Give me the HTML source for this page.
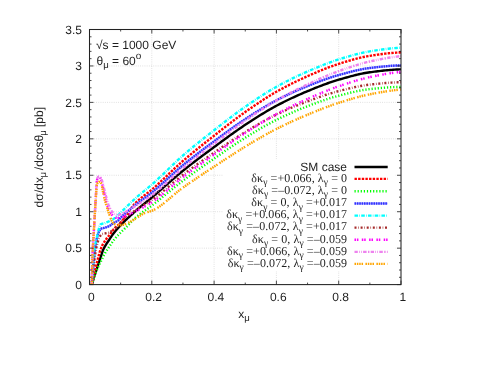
<!DOCTYPE html>
<html><head><meta charset="utf-8"><title>plot</title>
<style>
html,body{margin:0;padding:0;background:#fff;}
body{width:480px;height:371px;overflow:hidden;font-family:"Liberation Sans",sans-serif;}
svg{display:block;will-change:transform;text-rendering:geometricPrecision;}
.t{font-family:"Liberation Sans",sans-serif;font-size:12px;fill:#1e1e1e;}
.s{font-family:"Liberation Serif",serif;font-size:12px;fill:#1e1e1e;letter-spacing:0.085px;}
</style></head><body>
<svg width="480" height="371" viewBox="0 0 480 371">
<rect x="0" y="0" width="480" height="371" fill="#ffffff"/>
<g stroke="#d0d0d0" stroke-width="0.7" stroke-dasharray="0.9 1.3" fill="none"><line x1="151.80" y1="284.60" x2="151.80" y2="29.50"/><line x1="214.10" y1="284.60" x2="214.10" y2="29.50"/><line x1="276.40" y1="284.60" x2="276.40" y2="29.50"/><line x1="338.70" y1="284.60" x2="338.70" y2="29.50"/><line x1="89.50" y1="248.16" x2="401.00" y2="248.16"/><line x1="89.50" y1="211.71" x2="401.00" y2="211.71"/><line x1="89.50" y1="175.27" x2="401.00" y2="175.27"/><line x1="89.50" y1="138.83" x2="401.00" y2="138.83"/><line x1="89.50" y1="102.39" x2="401.00" y2="102.39"/><line x1="89.50" y1="65.94" x2="401.00" y2="65.94"/></g>
<rect x="223" y="159.5" width="172.5" height="111.5" fill="#ffffff"/>
<g fill="none" stroke-width="2.40" stroke-linejoin="round">
<path d="M91.84,284.60 L92.14,283.58 L92.44,282.58 L92.74,281.57 L93.04,280.58 L93.34,279.59 L93.64,278.61 L93.95,277.64 L94.25,276.68 L94.55,275.72 L94.85,274.78 L95.15,273.85 L95.45,272.92 L95.75,272.00 L96.05,271.09 L96.36,270.18 L96.66,269.27 L96.96,268.37 L97.26,267.46 L97.56,266.56 L97.86,265.65 L98.16,264.74 L98.47,263.83 L98.77,262.93 L99.07,262.03 L99.37,261.13 L99.67,260.23 L99.97,259.33 L100.27,258.43 L100.57,257.53 L100.88,256.63 L101.18,255.72 L101.48,254.76 L101.78,253.79 L102.08,252.84 L102.38,251.91 L102.68,251.05 L102.99,250.28 L103.29,249.59 L103.59,248.95 L103.89,248.33 L104.19,247.74 L104.49,247.17 L104.79,246.62 L105.09,246.09 L105.40,245.58 L105.70,245.08 L106.00,244.59 L106.30,244.12 L106.60,243.66 L106.90,243.20 L107.20,242.75 L107.51,242.31 L107.81,241.86 L108.11,241.42 L108.41,240.97 L108.71,240.52 L109.01,240.07 L109.31,239.60 L109.61,239.13 L109.92,238.66 L110.22,238.19 L110.52,237.72 L110.82,237.26 L111.12,236.80 L111.42,236.35 L111.72,235.90 L112.03,235.47 L112.33,235.04 L112.63,234.63 L112.93,234.22 L113.23,233.82 L113.53,233.43 L113.83,233.04 L114.13,232.66 L114.44,232.28 L114.74,231.90 L115.04,231.53 L115.34,231.17 L115.64,230.80 L115.94,230.44 L116.24,230.09 L116.54,229.73 L116.85,229.38 L117.15,229.04 L117.45,228.69 L117.75,228.35 L118.05,228.02 L118.35,227.68 L118.65,227.35 L118.96,227.02 L119.26,226.69 L119.56,226.36 L119.86,226.04 L120.16,225.72 L120.46,225.40 L120.76,225.08 L121.06,224.76 L121.37,224.45 L121.67,224.13 L121.97,223.82 L122.27,223.51 L122.57,223.20 L122.87,222.90 L123.17,222.59 L123.48,222.29 L123.78,221.99 L124.08,221.69 L124.38,221.39 L124.68,221.09 L124.98,220.80 L125.28,220.50 L125.58,220.21 L125.89,219.92 L126.19,219.63 L126.49,219.34 L126.79,219.05 L127.09,218.77 L127.39,218.48 L127.69,218.20 L128.00,217.91 L128.30,217.63 L128.60,217.35 L128.90,217.07 L129.20,216.79 L129.50,216.51 L129.80,216.24 L130.10,215.96 L130.41,215.69 L130.71,215.41 L131.01,215.14 L131.31,214.86 L131.61,214.59 L131.91,214.32 L132.21,214.05 L132.52,213.78 L132.82,213.51 L133.12,213.24 L133.42,212.97 L133.72,212.70 L134.02,212.43 L134.32,212.16 L134.62,211.89 L134.93,211.63 L135.23,211.36 L135.53,211.09 L135.83,210.83 L136.13,210.56 L136.43,210.29 L136.73,210.03 L137.04,209.76 L137.34,209.50 L137.64,209.24 L137.94,208.98 L138.24,208.72 L138.54,208.46 L138.84,208.20 L139.14,207.95 L139.45,207.69 L139.75,207.44 L140.05,207.18 L140.35,206.93 L140.65,206.68 L140.95,206.43 L141.25,206.18 L141.55,205.93 L141.86,205.68 L142.16,205.43 L142.46,205.18 L142.76,204.93 L143.06,204.69 L143.36,204.44 L143.66,204.19 L143.97,203.95 L144.27,203.70 L144.57,203.45 L144.87,203.21 L145.17,202.96 L145.47,202.72 L145.77,202.47 L146.07,202.23 L146.38,201.98 L146.68,201.73 L146.98,201.49 L147.28,201.24 L147.58,201.00 L147.88,200.75 L148.18,200.50 L148.49,200.26 L148.79,200.01 L149.09,199.76 L149.39,199.51 L149.69,199.26 L149.99,199.01 L150.29,198.76 L150.59,198.51 L150.90,198.26 L151.20,198.01 L151.50,197.76 L151.80,197.50 L153.36,196.18 L154.92,194.85 L156.47,193.51 L158.03,192.16 L159.59,190.80 L161.14,189.44 L162.70,188.08 L164.26,186.71 L165.82,185.35 L167.38,183.98 L168.93,182.62 L170.49,181.26 L172.05,179.91 L173.61,178.57 L175.16,177.23 L176.72,175.91 L178.28,174.60 L179.84,173.30 L181.39,172.02 L182.95,170.75 L184.51,169.50 L186.06,168.26 L187.62,167.03 L189.18,165.81 L190.74,164.59 L192.30,163.39 L193.85,162.19 L195.41,161.00 L196.97,159.81 L198.52,158.63 L200.08,157.46 L201.64,156.29 L203.20,155.13 L204.75,153.97 L206.31,152.81 L207.87,151.66 L209.43,150.51 L210.99,149.36 L212.54,148.21 L214.10,147.06 L215.66,145.92 L217.22,144.77 L218.77,143.62 L220.33,142.47 L221.89,141.33 L223.45,140.18 L225.00,139.04 L226.56,137.91 L228.12,136.77 L229.68,135.65 L231.23,134.52 L232.79,133.41 L234.35,132.30 L235.91,131.21 L237.46,130.12 L239.02,129.04 L240.58,127.97 L242.13,126.91 L243.69,125.87 L245.25,124.83 L246.81,123.81 L248.37,122.79 L249.92,121.77 L251.48,120.76 L253.04,119.75 L254.59,118.75 L256.15,117.76 L257.71,116.78 L259.27,115.80 L260.83,114.83 L262.38,113.87 L263.94,112.92 L265.50,111.99 L267.06,111.06 L268.61,110.15 L270.17,109.25 L271.73,108.37 L273.29,107.50 L274.84,106.65 L276.40,105.81 L277.96,104.99 L279.52,104.18 L281.07,103.37 L282.63,102.58 L284.19,101.80 L285.75,101.02 L287.30,100.26 L288.86,99.50 L290.42,98.76 L291.98,98.02 L293.53,97.30 L295.09,96.58 L296.65,95.87 L298.21,95.17 L299.76,94.48 L301.32,93.80 L302.88,93.13 L304.43,92.46 L305.99,91.81 L307.55,91.16 L309.11,90.52 L310.66,89.88 L312.22,89.25 L313.78,88.61 L315.34,87.99 L316.89,87.37 L318.45,86.75 L320.01,86.15 L321.57,85.55 L323.12,84.96 L324.68,84.38 L326.24,83.81 L327.80,83.25 L329.36,82.71 L330.91,82.17 L332.47,81.65 L334.03,81.14 L335.59,80.65 L337.14,80.18 L338.70,79.72 L340.26,79.27 L341.82,78.82 L343.37,78.37 L344.93,77.93 L346.49,77.49 L348.05,77.05 L349.60,76.62 L351.16,76.21 L352.72,75.80 L354.28,75.40 L355.83,75.01 L357.39,74.64 L358.95,74.28 L360.51,73.94 L362.06,73.61 L363.62,73.30 L365.18,73.02 L366.74,72.75 L368.29,72.51 L369.85,72.28 L371.41,72.08 L372.96,71.87 L374.52,71.67 L376.08,71.47 L377.64,71.27 L379.19,71.08 L380.75,70.90 L382.31,70.72 L383.87,70.55 L385.43,70.38 L386.98,70.23 L388.54,70.09 L390.10,69.95 L391.65,69.83 L393.21,69.72 L394.77,69.62 L396.33,69.54 L397.88,69.47 L399.44,69.41 L401.00,69.37" stroke="#000000"/>
<path d="M91.84,284.60 L92.14,283.30 L92.44,282.00 L92.74,280.70 L93.04,279.40 L93.34,278.09 L93.64,276.79 L93.95,275.49 L94.25,274.18 L94.55,272.88 L94.85,271.56 L95.15,270.22 L95.45,268.88 L95.75,267.56 L96.05,266.25 L96.36,264.98 L96.66,263.75 L96.96,262.54 L97.26,261.33 L97.56,260.13 L97.86,258.93 L98.16,257.76 L98.47,256.60 L98.77,255.47 L99.07,254.37 L99.37,253.30 L99.67,252.28 L99.97,251.30 L100.27,250.36 L100.57,249.48 L100.88,248.65 L101.18,247.86 L101.48,247.13 L101.78,246.46 L102.08,245.83 L102.38,245.24 L102.68,244.66 L102.99,244.10 L103.29,243.57 L103.59,243.05 L103.89,242.55 L104.19,242.06 L104.49,241.59 L104.79,241.13 L105.09,240.67 L105.40,240.23 L105.70,239.79 L106.00,239.36 L106.30,238.95 L106.60,238.55 L106.90,238.16 L107.20,237.79 L107.51,237.41 L107.81,237.05 L108.11,236.68 L108.41,236.32 L108.71,235.95 L109.01,235.57 L109.31,235.19 L109.61,234.81 L109.92,234.41 L110.22,234.01 L110.52,233.60 L110.82,233.19 L111.12,232.78 L111.42,232.37 L111.72,231.95 L112.03,231.54 L112.33,231.13 L112.63,230.73 L112.93,230.33 L113.23,229.94 L113.53,229.56 L113.83,229.18 L114.13,228.82 L114.44,228.47 L114.74,228.14 L115.04,227.81 L115.34,227.51 L115.64,227.21 L115.94,226.93 L116.24,226.65 L116.54,226.38 L116.85,226.12 L117.15,225.86 L117.45,225.60 L117.75,225.34 L118.05,225.09 L118.35,224.83 L118.65,224.56 L118.96,224.29 L119.26,224.01 L119.56,223.73 L119.86,223.43 L120.16,223.11 L120.46,222.79 L120.76,222.46 L121.06,222.12 L121.37,221.77 L121.67,221.42 L121.97,221.05 L122.27,220.68 L122.57,220.31 L122.87,219.92 L123.17,219.53 L123.48,219.14 L123.78,218.74 L124.08,218.33 L124.38,217.92 L124.68,217.51 L124.98,217.09 L125.28,216.67 L125.58,216.25 L125.89,215.82 L126.19,215.39 L126.49,214.96 L126.79,214.53 L127.09,214.09 L127.39,213.66 L127.69,213.22 L128.00,212.79 L128.30,212.35 L128.60,211.92 L128.90,211.49 L129.20,211.06 L129.50,210.63 L129.80,210.20 L130.10,209.77 L130.41,209.35 L130.71,208.93 L131.01,208.52 L131.31,208.11 L131.61,207.70 L131.91,207.30 L132.21,206.90 L132.52,206.51 L132.82,206.12 L133.12,205.74 L133.42,205.37 L133.72,205.00 L134.02,204.64 L134.32,204.29 L134.62,203.95 L134.93,203.62 L135.23,203.29 L135.53,202.97 L135.83,202.67 L136.13,202.37 L136.43,202.07 L136.73,201.78 L137.04,201.49 L137.34,201.21 L137.64,200.93 L137.94,200.66 L138.24,200.39 L138.54,200.12 L138.84,199.86 L139.14,199.60 L139.45,199.34 L139.75,199.09 L140.05,198.83 L140.35,198.59 L140.65,198.34 L140.95,198.10 L141.25,197.85 L141.55,197.62 L141.86,197.38 L142.16,197.14 L142.46,196.91 L142.76,196.68 L143.06,196.44 L143.36,196.21 L143.66,195.99 L143.97,195.76 L144.27,195.53 L144.57,195.30 L144.87,195.08 L145.17,194.85 L145.47,194.63 L145.77,194.40 L146.07,194.17 L146.38,193.95 L146.68,193.72 L146.98,193.49 L147.28,193.27 L147.58,193.04 L147.88,192.81 L148.18,192.57 L148.49,192.34 L148.79,192.11 L149.09,191.87 L149.39,191.63 L149.69,191.40 L149.99,191.15 L150.29,190.91 L150.59,190.66 L150.90,190.41 L151.20,190.16 L151.50,189.91 L151.80,189.65 L153.36,188.30 L154.92,186.92 L156.47,185.52 L158.03,184.10 L159.59,182.66 L161.14,181.21 L162.70,179.75 L164.26,178.28 L165.82,176.80 L167.38,175.32 L168.93,173.83 L170.49,172.36 L172.05,170.88 L173.61,169.42 L175.16,167.96 L176.72,166.52 L178.28,165.10 L179.84,163.69 L181.39,162.31 L182.95,160.95 L184.51,159.61 L186.06,158.29 L187.62,156.97 L189.18,155.67 L190.74,154.37 L192.30,153.08 L193.85,151.80 L195.41,150.53 L196.97,149.27 L198.52,148.01 L200.08,146.76 L201.64,145.52 L203.20,144.27 L204.75,143.04 L206.31,141.81 L207.87,140.58 L209.43,139.35 L210.99,138.13 L212.54,136.90 L214.10,135.68 L215.66,134.46 L217.22,133.23 L218.77,132.01 L220.33,130.79 L221.89,129.57 L223.45,128.35 L225.00,127.13 L226.56,125.92 L228.12,124.72 L229.68,123.52 L231.23,122.33 L232.79,121.14 L234.35,119.96 L235.91,118.79 L237.46,117.63 L239.02,116.49 L240.58,115.35 L242.13,114.23 L243.69,113.11 L245.25,112.02 L246.81,110.93 L248.37,109.84 L249.92,108.76 L251.48,107.68 L253.04,106.61 L254.59,105.55 L256.15,104.49 L257.71,103.45 L259.27,102.41 L260.83,101.38 L262.38,100.36 L263.94,99.35 L265.50,98.35 L267.06,97.37 L268.61,96.40 L270.17,95.45 L271.73,94.51 L273.29,93.58 L274.84,92.68 L276.40,91.79 L277.96,90.91 L279.52,90.05 L281.07,89.19 L282.63,88.35 L284.19,87.52 L285.75,86.69 L287.30,85.88 L288.86,85.08 L290.42,84.29 L291.98,83.50 L293.53,82.73 L295.09,81.97 L296.65,81.21 L298.21,80.47 L299.76,79.73 L301.32,79.01 L302.88,78.29 L304.43,77.58 L305.99,76.88 L307.55,76.19 L309.11,75.50 L310.66,74.82 L312.22,74.14 L313.78,73.47 L315.34,72.80 L316.89,72.14 L318.45,71.48 L320.01,70.83 L321.57,70.19 L323.12,69.56 L324.68,68.94 L326.24,68.33 L327.80,67.73 L329.36,67.14 L330.91,66.57 L332.47,66.01 L334.03,65.46 L335.59,64.93 L337.14,64.42 L338.70,63.92 L340.26,63.43 L341.82,62.95 L343.37,62.46 L344.93,61.98 L346.49,61.51 L348.05,61.04 L349.60,60.58 L351.16,60.12 L352.72,59.68 L354.28,59.25 L355.83,58.83 L357.39,58.42 L358.95,58.03 L360.51,57.66 L362.06,57.30 L363.62,56.96 L365.18,56.64 L366.74,56.34 L368.29,56.07 L369.85,55.82 L371.41,55.58 L372.96,55.34 L374.52,55.11 L376.08,54.88 L377.64,54.66 L379.19,54.44 L380.75,54.23 L382.31,54.03 L383.87,53.83 L385.43,53.65 L386.98,53.47 L388.54,53.30 L390.10,53.15 L391.65,53.00 L393.21,52.87 L394.77,52.75 L396.33,52.64 L397.88,52.55 L399.44,52.47 L401.00,52.41" stroke="#ff0000" stroke-dasharray="2.4 1.24"/>
<path d="M91.84,284.60 L92.14,283.60 L92.44,282.61 L92.74,281.62 L93.04,280.60 L93.34,279.58 L93.64,278.56 L93.95,277.56 L94.25,276.60 L94.55,275.68 L94.85,274.83 L95.15,274.03 L95.45,273.28 L95.75,272.55 L96.05,271.85 L96.36,271.16 L96.66,270.47 L96.96,269.78 L97.26,269.09 L97.56,268.41 L97.86,267.74 L98.16,267.07 L98.47,266.41 L98.77,265.76 L99.07,265.12 L99.37,264.49 L99.67,263.86 L99.97,263.25 L100.27,262.64 L100.57,262.03 L100.88,261.42 L101.18,260.82 L101.48,260.21 L101.78,259.60 L102.08,258.98 L102.38,258.36 L102.68,257.74 L102.99,257.13 L103.29,256.52 L103.59,255.92 L103.89,255.34 L104.19,254.77 L104.49,254.21 L104.79,253.67 L105.09,253.13 L105.40,252.61 L105.70,252.10 L106.00,251.61 L106.30,251.12 L106.60,250.65 L106.90,250.18 L107.20,249.71 L107.51,249.26 L107.81,248.80 L108.11,248.36 L108.41,247.91 L108.71,247.47 L109.01,247.03 L109.31,246.59 L109.61,246.15 L109.92,245.70 L110.22,245.26 L110.52,244.81 L110.82,244.37 L111.12,243.92 L111.42,243.48 L111.72,243.04 L112.03,242.60 L112.33,242.17 L112.63,241.74 L112.93,241.32 L113.23,240.90 L113.53,240.49 L113.83,240.09 L114.13,239.70 L114.44,239.31 L114.74,238.94 L115.04,238.57 L115.34,238.21 L115.64,237.86 L115.94,237.52 L116.24,237.18 L116.54,236.85 L116.85,236.53 L117.15,236.20 L117.45,235.89 L117.75,235.57 L118.05,235.26 L118.35,234.95 L118.65,234.64 L118.96,234.33 L119.26,234.03 L119.56,233.72 L119.86,233.41 L120.16,233.10 L120.46,232.79 L120.76,232.49 L121.06,232.18 L121.37,231.88 L121.67,231.58 L121.97,231.28 L122.27,230.98 L122.57,230.69 L122.87,230.39 L123.17,230.10 L123.48,229.80 L123.78,229.51 L124.08,229.22 L124.38,228.93 L124.68,228.63 L124.98,228.34 L125.28,228.05 L125.58,227.76 L125.89,227.46 L126.19,227.17 L126.49,226.88 L126.79,226.58 L127.09,226.28 L127.39,225.98 L127.69,225.68 L128.00,225.38 L128.30,225.07 L128.60,224.76 L128.90,224.45 L129.20,224.14 L129.50,223.82 L129.80,223.50 L130.10,223.18 L130.41,222.86 L130.71,222.54 L131.01,222.21 L131.31,221.89 L131.61,221.57 L131.91,221.25 L132.21,220.93 L132.52,220.62 L132.82,220.30 L133.12,219.99 L133.42,219.68 L133.72,219.38 L134.02,219.08 L134.32,218.78 L134.62,218.49 L134.93,218.21 L135.23,217.93 L135.53,217.66 L135.83,217.39 L136.13,217.13 L136.43,216.87 L136.73,216.62 L137.04,216.37 L137.34,216.12 L137.64,215.87 L137.94,215.63 L138.24,215.39 L138.54,215.15 L138.84,214.91 L139.14,214.68 L139.45,214.45 L139.75,214.22 L140.05,213.99 L140.35,213.77 L140.65,213.54 L140.95,213.32 L141.25,213.10 L141.55,212.88 L141.86,212.67 L142.16,212.45 L142.46,212.23 L142.76,212.02 L143.06,211.81 L143.36,211.60 L143.66,211.38 L143.97,211.17 L144.27,210.96 L144.57,210.75 L144.87,210.54 L145.17,210.34 L145.47,210.13 L145.77,209.92 L146.07,209.71 L146.38,209.50 L146.68,209.29 L146.98,209.08 L147.28,208.87 L147.58,208.66 L147.88,208.45 L148.18,208.24 L148.49,208.03 L148.79,207.81 L149.09,207.60 L149.39,207.38 L149.69,207.16 L149.99,206.94 L150.29,206.72 L150.59,206.50 L150.90,206.28 L151.20,206.05 L151.50,205.83 L151.80,205.60 L153.36,204.40 L154.92,203.19 L156.47,201.96 L158.03,200.72 L159.59,199.47 L161.14,198.21 L162.70,196.94 L164.26,195.68 L165.82,194.40 L167.38,193.13 L168.93,191.86 L170.49,190.59 L172.05,189.32 L173.61,188.06 L175.16,186.81 L176.72,185.57 L178.28,184.35 L179.84,183.13 L181.39,181.93 L182.95,180.75 L184.51,179.59 L186.06,178.43 L187.62,177.28 L189.18,176.14 L190.74,175.00 L192.30,173.87 L193.85,172.75 L195.41,171.64 L196.97,170.53 L198.52,169.43 L200.08,168.33 L201.64,167.23 L203.20,166.14 L204.75,165.06 L206.31,163.97 L207.87,162.89 L209.43,161.81 L210.99,160.74 L212.54,159.66 L214.10,158.59 L215.66,157.51 L217.22,156.44 L218.77,155.36 L220.33,154.28 L221.89,153.21 L223.45,152.14 L225.00,151.07 L226.56,150.00 L228.12,148.94 L229.68,147.88 L231.23,146.83 L232.79,145.78 L234.35,144.74 L235.91,143.71 L237.46,142.69 L239.02,141.68 L240.58,140.68 L242.13,139.69 L243.69,138.71 L245.25,137.74 L246.81,136.78 L248.37,135.82 L249.92,134.87 L251.48,133.92 L253.04,132.97 L254.59,132.03 L256.15,131.10 L257.71,130.18 L259.27,129.26 L260.83,128.35 L262.38,127.45 L263.94,126.56 L265.50,125.69 L267.06,124.82 L268.61,123.96 L270.17,123.12 L271.73,122.30 L273.29,121.48 L274.84,120.68 L276.40,119.90 L277.96,119.13 L279.52,118.37 L281.07,117.62 L282.63,116.88 L284.19,116.15 L285.75,115.42 L287.30,114.71 L288.86,114.00 L290.42,113.31 L291.98,112.62 L293.53,111.94 L295.09,111.27 L296.65,110.61 L298.21,109.96 L299.76,109.32 L301.32,108.68 L302.88,108.06 L304.43,107.44 L305.99,106.83 L307.55,106.23 L309.11,105.64 L310.66,105.05 L312.22,104.46 L313.78,103.88 L315.34,103.30 L316.89,102.73 L318.45,102.16 L320.01,101.60 L321.57,101.05 L323.12,100.50 L324.68,99.97 L326.24,99.44 L327.80,98.93 L329.36,98.43 L330.91,97.94 L332.47,97.47 L334.03,97.01 L335.59,96.56 L337.14,96.13 L338.70,95.72 L340.26,95.31 L341.82,94.90 L343.37,94.50 L344.93,94.10 L346.49,93.70 L348.05,93.31 L349.60,92.92 L351.16,92.54 L352.72,92.17 L354.28,91.82 L355.83,91.47 L357.39,91.14 L358.95,90.82 L360.51,90.52 L362.06,90.23 L363.62,89.97 L365.18,89.72 L366.74,89.50 L368.29,89.30 L369.85,89.12 L371.41,88.96 L372.96,88.79 L374.52,88.63 L376.08,88.47 L377.64,88.31 L379.19,88.16 L380.75,88.01 L382.31,87.87 L383.87,87.74 L385.43,87.61 L386.98,87.49 L388.54,87.38 L390.10,87.28 L391.65,87.19 L393.21,87.11 L394.77,87.05 L396.33,86.99 L397.88,86.96 L399.44,86.93 L401.00,86.92" stroke="#00ff00" stroke-dasharray="1.2 1.9"/>
<path d="M91.74,284.60 L92.04,280.57 L92.35,276.65 L92.65,272.87 L92.95,269.22 L93.25,265.74 L93.55,262.43 L93.86,259.31 L94.16,256.38 L94.46,253.68 L94.76,251.20 L95.06,248.97 L95.36,246.99 L95.67,245.13 L95.97,243.34 L96.27,241.64 L96.57,240.03 L96.87,238.52 L97.18,237.13 L97.48,235.86 L97.78,234.72 L98.08,233.73 L98.38,232.90 L98.68,232.23 L98.99,231.63 L99.29,231.06 L99.59,230.54 L99.89,230.07 L100.19,229.64 L100.49,229.28 L100.80,228.98 L101.10,228.75 L101.40,228.60 L101.70,228.48 L102.00,228.38 L102.31,228.29 L102.61,228.22 L102.91,228.16 L103.21,228.10 L103.51,228.04 L103.81,227.98 L104.12,227.92 L104.42,227.85 L104.72,227.76 L105.02,227.67 L105.32,227.58 L105.63,227.48 L105.93,227.38 L106.23,227.28 L106.53,227.17 L106.83,227.06 L107.13,226.95 L107.44,226.83 L107.74,226.71 L108.04,226.59 L108.34,226.45 L108.64,226.32 L108.95,226.17 L109.25,226.02 L109.55,225.87 L109.85,225.69 L110.15,225.48 L110.45,225.26 L110.76,225.02 L111.06,224.78 L111.36,224.53 L111.66,224.28 L111.96,224.03 L112.26,223.80 L112.57,223.58 L112.87,223.37 L113.17,223.19 L113.47,223.01 L113.77,222.84 L114.08,222.69 L114.38,222.53 L114.68,222.39 L114.98,222.24 L115.28,222.10 L115.58,221.95 L115.89,221.80 L116.19,221.65 L116.49,221.49 L116.79,221.32 L117.09,221.15 L117.40,220.96 L117.70,220.75 L118.00,220.54 L118.30,220.29 L118.60,220.00 L118.90,219.68 L119.21,219.35 L119.51,219.00 L119.81,218.64 L120.11,218.29 L120.41,217.95 L120.72,217.63 L121.02,217.34 L121.32,217.05 L121.62,216.76 L121.92,216.47 L122.22,216.19 L122.53,215.91 L122.83,215.63 L123.13,215.35 L123.43,215.07 L123.73,214.80 L124.03,214.52 L124.34,214.25 L124.64,213.98 L124.94,213.71 L125.24,213.45 L125.54,213.18 L125.85,212.92 L126.15,212.66 L126.45,212.40 L126.75,212.14 L127.05,211.88 L127.35,211.62 L127.66,211.37 L127.96,211.11 L128.26,210.86 L128.56,210.61 L128.86,210.36 L129.17,210.11 L129.47,209.86 L129.77,209.61 L130.07,209.36 L130.37,209.11 L130.67,208.87 L130.98,208.62 L131.28,208.37 L131.58,208.13 L131.88,207.89 L132.18,207.64 L132.49,207.40 L132.79,207.15 L133.09,206.91 L133.39,206.67 L133.69,206.43 L133.99,206.18 L134.30,205.94 L134.60,205.70 L134.90,205.46 L135.20,205.21 L135.50,204.97 L135.80,204.73 L136.11,204.49 L136.41,204.25 L136.71,204.01 L137.01,203.77 L137.31,203.53 L137.62,203.30 L137.92,203.06 L138.22,202.83 L138.52,202.60 L138.82,202.37 L139.12,202.14 L139.43,201.91 L139.73,201.68 L140.03,201.46 L140.33,201.23 L140.63,201.00 L140.94,200.78 L141.24,200.55 L141.54,200.33 L141.84,200.11 L142.14,199.88 L142.44,199.66 L142.75,199.44 L143.05,199.22 L143.35,198.99 L143.65,198.77 L143.95,198.55 L144.26,198.33 L144.56,198.11 L144.86,197.88 L145.16,197.66 L145.46,197.44 L145.76,197.21 L146.07,196.99 L146.37,196.77 L146.67,196.54 L146.97,196.32 L147.27,196.09 L147.57,195.86 L147.88,195.63 L148.18,195.41 L148.48,195.18 L148.78,194.95 L149.08,194.72 L149.39,194.48 L149.69,194.25 L149.99,194.01 L150.29,193.78 L150.59,193.54 L150.89,193.30 L151.20,193.06 L151.50,192.82 L151.80,192.58 L153.36,191.30 L154.92,190.00 L156.47,188.67 L158.03,187.32 L159.59,185.95 L161.14,184.57 L162.70,183.17 L164.26,181.76 L165.82,180.35 L167.38,178.93 L168.93,177.51 L170.49,176.09 L172.05,174.68 L173.61,173.28 L175.16,171.88 L176.72,170.50 L178.28,169.14 L179.84,167.80 L181.39,166.49 L182.95,165.20 L184.51,163.93 L186.06,162.67 L187.62,161.42 L189.18,160.18 L190.74,158.95 L192.30,157.73 L193.85,156.52 L195.41,155.32 L196.97,154.12 L198.52,152.93 L200.08,151.75 L201.64,150.58 L203.20,149.40 L204.75,148.24 L206.31,147.07 L207.87,145.91 L209.43,144.76 L210.99,143.60 L212.54,142.45 L214.10,141.30 L215.66,140.15 L217.22,139.00 L218.77,137.85 L220.33,136.70 L221.89,135.55 L223.45,134.40 L225.00,133.26 L226.56,132.12 L228.12,130.99 L229.68,129.87 L231.23,128.75 L232.79,127.64 L234.35,126.53 L235.91,125.44 L237.46,124.35 L239.02,123.28 L240.58,122.22 L242.13,121.17 L243.69,120.13 L245.25,119.10 L246.81,118.09 L248.37,117.08 L249.92,116.07 L251.48,115.06 L253.04,114.07 L254.59,113.08 L256.15,112.10 L257.71,111.12 L259.27,110.15 L260.83,109.20 L262.38,108.25 L263.94,107.32 L265.50,106.39 L267.06,105.48 L268.61,104.59 L270.17,103.70 L271.73,102.84 L273.29,101.98 L274.84,101.15 L276.40,100.33 L277.96,99.52 L279.52,98.73 L281.07,97.94 L282.63,97.17 L284.19,96.40 L285.75,95.65 L287.30,94.90 L288.86,94.17 L290.42,93.44 L291.98,92.73 L293.53,92.02 L295.09,91.32 L296.65,90.64 L298.21,89.96 L299.76,89.29 L301.32,88.63 L302.88,87.97 L304.43,87.33 L305.99,86.70 L307.55,86.07 L309.11,85.45 L310.66,84.83 L312.22,84.22 L313.78,83.61 L315.34,83.00 L316.89,82.40 L318.45,81.81 L320.01,81.23 L321.57,80.65 L323.12,80.08 L324.68,79.52 L326.24,78.97 L327.80,78.43 L329.36,77.91 L330.91,77.40 L332.47,76.90 L334.03,76.41 L335.59,75.94 L337.14,75.49 L338.70,75.05 L340.26,74.62 L341.82,74.19 L343.37,73.76 L344.93,73.34 L346.49,72.92 L348.05,72.50 L349.60,72.10 L351.16,71.70 L352.72,71.31 L354.28,70.93 L355.83,70.56 L357.39,70.21 L358.95,69.87 L360.51,69.55 L362.06,69.24 L363.62,68.95 L365.18,68.69 L366.74,68.44 L368.29,68.21 L369.85,68.01 L371.41,67.82 L372.96,67.64 L374.52,67.45 L376.08,67.27 L377.64,67.10 L379.19,66.92 L380.75,66.76 L382.31,66.60 L383.87,66.44 L385.43,66.30 L386.98,66.16 L388.54,66.03 L390.10,65.91 L391.65,65.80 L393.21,65.71 L394.77,65.63 L396.33,65.56 L397.88,65.50 L399.44,65.46 L401.00,65.43" stroke="#b8b8ff" stroke-width="2.2"/>
<path d="M91.74,284.60 L92.04,280.57 L92.35,276.65 L92.65,272.87 L92.95,269.22 L93.25,265.74 L93.55,262.43 L93.86,259.31 L94.16,256.38 L94.46,253.68 L94.76,251.20 L95.06,248.97 L95.36,246.99 L95.67,245.13 L95.97,243.34 L96.27,241.64 L96.57,240.03 L96.87,238.52 L97.18,237.13 L97.48,235.86 L97.78,234.72 L98.08,233.73 L98.38,232.90 L98.68,232.23 L98.99,231.63 L99.29,231.06 L99.59,230.54 L99.89,230.07 L100.19,229.64 L100.49,229.28 L100.80,228.98 L101.10,228.75 L101.40,228.60 L101.70,228.48 L102.00,228.38 L102.31,228.29 L102.61,228.22 L102.91,228.16 L103.21,228.10 L103.51,228.04 L103.81,227.98 L104.12,227.92 L104.42,227.85 L104.72,227.76 L105.02,227.67 L105.32,227.58 L105.63,227.48 L105.93,227.38 L106.23,227.28 L106.53,227.17 L106.83,227.06 L107.13,226.95 L107.44,226.83 L107.74,226.71 L108.04,226.59 L108.34,226.45 L108.64,226.32 L108.95,226.17 L109.25,226.02 L109.55,225.87 L109.85,225.69 L110.15,225.48 L110.45,225.26 L110.76,225.02 L111.06,224.78 L111.36,224.53 L111.66,224.28 L111.96,224.03 L112.26,223.80 L112.57,223.58 L112.87,223.37 L113.17,223.19 L113.47,223.01 L113.77,222.84 L114.08,222.69 L114.38,222.53 L114.68,222.39 L114.98,222.24 L115.28,222.10 L115.58,221.95 L115.89,221.80 L116.19,221.65 L116.49,221.49 L116.79,221.32 L117.09,221.15 L117.40,220.96 L117.70,220.75 L118.00,220.54 L118.30,220.29 L118.60,220.00 L118.90,219.68 L119.21,219.35 L119.51,219.00 L119.81,218.64 L120.11,218.29 L120.41,217.95 L120.72,217.63 L121.02,217.34 L121.32,217.05 L121.62,216.76 L121.92,216.47 L122.22,216.19 L122.53,215.91 L122.83,215.63 L123.13,215.35 L123.43,215.07 L123.73,214.80 L124.03,214.52 L124.34,214.25 L124.64,213.98 L124.94,213.71 L125.24,213.45 L125.54,213.18 L125.85,212.92 L126.15,212.66 L126.45,212.40 L126.75,212.14 L127.05,211.88 L127.35,211.62 L127.66,211.37 L127.96,211.11 L128.26,210.86 L128.56,210.61 L128.86,210.36 L129.17,210.11 L129.47,209.86 L129.77,209.61 L130.07,209.36 L130.37,209.11 L130.67,208.87 L130.98,208.62 L131.28,208.37 L131.58,208.13 L131.88,207.89 L132.18,207.64 L132.49,207.40 L132.79,207.15 L133.09,206.91 L133.39,206.67 L133.69,206.43 L133.99,206.18 L134.30,205.94 L134.60,205.70 L134.90,205.46 L135.20,205.21 L135.50,204.97 L135.80,204.73 L136.11,204.49 L136.41,204.25 L136.71,204.01 L137.01,203.77 L137.31,203.53 L137.62,203.30 L137.92,203.06 L138.22,202.83 L138.52,202.60 L138.82,202.37 L139.12,202.14 L139.43,201.91 L139.73,201.68 L140.03,201.46 L140.33,201.23 L140.63,201.00 L140.94,200.78 L141.24,200.55 L141.54,200.33 L141.84,200.11 L142.14,199.88 L142.44,199.66 L142.75,199.44 L143.05,199.22 L143.35,198.99 L143.65,198.77 L143.95,198.55 L144.26,198.33 L144.56,198.11 L144.86,197.88 L145.16,197.66 L145.46,197.44 L145.76,197.21 L146.07,196.99 L146.37,196.77 L146.67,196.54 L146.97,196.32 L147.27,196.09 L147.57,195.86 L147.88,195.63 L148.18,195.41 L148.48,195.18 L148.78,194.95 L149.08,194.72 L149.39,194.48 L149.69,194.25 L149.99,194.01 L150.29,193.78 L150.59,193.54 L150.89,193.30 L151.20,193.06 L151.50,192.82 L151.80,192.58 L153.36,191.30 L154.92,190.00 L156.47,188.67 L158.03,187.32 L159.59,185.95 L161.14,184.57 L162.70,183.17 L164.26,181.76 L165.82,180.35 L167.38,178.93 L168.93,177.51 L170.49,176.09 L172.05,174.68 L173.61,173.28 L175.16,171.88 L176.72,170.50 L178.28,169.14 L179.84,167.80 L181.39,166.49 L182.95,165.20 L184.51,163.93 L186.06,162.67 L187.62,161.42 L189.18,160.18 L190.74,158.95 L192.30,157.73 L193.85,156.52 L195.41,155.32 L196.97,154.12 L198.52,152.93 L200.08,151.75 L201.64,150.58 L203.20,149.40 L204.75,148.24 L206.31,147.07 L207.87,145.91 L209.43,144.76 L210.99,143.60 L212.54,142.45 L214.10,141.30 L215.66,140.15 L217.22,139.00 L218.77,137.85 L220.33,136.70 L221.89,135.55 L223.45,134.40 L225.00,133.26 L226.56,132.12 L228.12,130.99 L229.68,129.87 L231.23,128.75 L232.79,127.64 L234.35,126.53 L235.91,125.44 L237.46,124.35 L239.02,123.28 L240.58,122.22 L242.13,121.17 L243.69,120.13 L245.25,119.10 L246.81,118.09 L248.37,117.08 L249.92,116.07 L251.48,115.06 L253.04,114.07 L254.59,113.08 L256.15,112.10 L257.71,111.12 L259.27,110.15 L260.83,109.20 L262.38,108.25 L263.94,107.32 L265.50,106.39 L267.06,105.48 L268.61,104.59 L270.17,103.70 L271.73,102.84 L273.29,101.98 L274.84,101.15 L276.40,100.33 L277.96,99.52 L279.52,98.73 L281.07,97.94 L282.63,97.17 L284.19,96.40 L285.75,95.65 L287.30,94.90 L288.86,94.17 L290.42,93.44 L291.98,92.73 L293.53,92.02 L295.09,91.32 L296.65,90.64 L298.21,89.96 L299.76,89.29 L301.32,88.63 L302.88,87.97 L304.43,87.33 L305.99,86.70 L307.55,86.07 L309.11,85.45 L310.66,84.83 L312.22,84.22 L313.78,83.61 L315.34,83.00 L316.89,82.40 L318.45,81.81 L320.01,81.23 L321.57,80.65 L323.12,80.08 L324.68,79.52 L326.24,78.97 L327.80,78.43 L329.36,77.91 L330.91,77.40 L332.47,76.90 L334.03,76.41 L335.59,75.94 L337.14,75.49 L338.70,75.05 L340.26,74.62 L341.82,74.19 L343.37,73.76 L344.93,73.34 L346.49,72.92 L348.05,72.50 L349.60,72.10 L351.16,71.70 L352.72,71.31 L354.28,70.93 L355.83,70.56 L357.39,70.21 L358.95,69.87 L360.51,69.55 L362.06,69.24 L363.62,68.95 L365.18,68.69 L366.74,68.44 L368.29,68.21 L369.85,68.01 L371.41,67.82 L372.96,67.64 L374.52,67.45 L376.08,67.27 L377.64,67.10 L379.19,66.92 L380.75,66.76 L382.31,66.60 L383.87,66.44 L385.43,66.30 L386.98,66.16 L388.54,66.03 L390.10,65.91 L391.65,65.80 L393.21,65.71 L394.77,65.63 L396.33,65.56 L397.88,65.50 L399.44,65.46 L401.00,65.43" stroke="#3030ff" stroke-dasharray="1.6 0.77"/>
<path d="M91.74,284.60 L92.04,279.49 L92.35,274.57 L92.65,269.90 L92.95,265.52 L93.25,261.47 L93.55,257.80 L93.86,254.57 L94.16,251.81 L94.46,249.53 L94.76,247.51 L95.06,245.68 L95.36,244.02 L95.67,242.50 L95.97,241.10 L96.27,239.77 L96.57,238.50 L96.87,237.26 L97.18,236.02 L97.48,234.73 L97.78,233.41 L98.08,232.09 L98.38,230.80 L98.68,229.56 L98.99,228.39 L99.29,227.32 L99.59,226.37 L99.89,225.57 L100.19,224.94 L100.49,224.50 L100.80,224.28 L101.10,224.14 L101.40,224.01 L101.70,223.91 L102.00,223.82 L102.31,223.74 L102.61,223.67 L102.91,223.61 L103.21,223.55 L103.51,223.49 L103.81,223.42 L104.12,223.35 L104.42,223.27 L104.72,223.17 L105.02,223.07 L105.32,222.95 L105.63,222.83 L105.93,222.71 L106.23,222.58 L106.53,222.45 L106.83,222.31 L107.13,222.17 L107.44,222.03 L107.74,221.89 L108.04,221.75 L108.34,221.61 L108.64,221.48 L108.95,221.34 L109.25,221.20 L109.55,221.06 L109.85,220.92 L110.15,220.78 L110.45,220.63 L110.76,220.49 L111.06,220.34 L111.36,220.19 L111.66,220.03 L111.96,219.87 L112.26,219.71 L112.57,219.54 L112.87,219.36 L113.17,219.18 L113.47,219.00 L113.77,218.81 L114.08,218.61 L114.38,218.40 L114.68,218.19 L114.98,217.97 L115.28,217.75 L115.58,217.51 L115.89,217.27 L116.19,217.02 L116.49,216.76 L116.79,216.49 L117.09,216.21 L117.40,215.92 L117.70,215.62 L118.00,215.31 L118.30,215.01 L118.60,214.70 L118.90,214.38 L119.21,214.07 L119.51,213.75 L119.81,213.44 L120.11,213.13 L120.41,212.83 L120.72,212.53 L121.02,212.24 L121.32,211.94 L121.62,211.65 L121.92,211.35 L122.22,211.06 L122.53,210.76 L122.83,210.47 L123.13,210.17 L123.43,209.88 L123.73,209.58 L124.03,209.28 L124.34,208.99 L124.64,208.69 L124.94,208.39 L125.24,208.10 L125.54,207.80 L125.85,207.50 L126.15,207.21 L126.45,206.91 L126.75,206.61 L127.05,206.32 L127.35,206.02 L127.66,205.73 L127.96,205.43 L128.26,205.14 L128.56,204.84 L128.86,204.55 L129.17,204.26 L129.47,203.96 L129.77,203.67 L130.07,203.38 L130.37,203.09 L130.67,202.80 L130.98,202.51 L131.28,202.22 L131.58,201.94 L131.88,201.65 L132.18,201.36 L132.49,201.08 L132.79,200.80 L133.09,200.51 L133.39,200.23 L133.69,199.95 L133.99,199.67 L134.30,199.40 L134.60,199.12 L134.90,198.84 L135.20,198.57 L135.50,198.30 L135.80,198.03 L136.11,197.76 L136.41,197.49 L136.71,197.22 L137.01,196.96 L137.31,196.69 L137.62,196.43 L137.92,196.17 L138.22,195.91 L138.52,195.66 L138.82,195.40 L139.12,195.14 L139.43,194.89 L139.73,194.64 L140.03,194.38 L140.33,194.13 L140.63,193.88 L140.94,193.63 L141.24,193.38 L141.54,193.14 L141.84,192.89 L142.14,192.64 L142.44,192.39 L142.75,192.15 L143.05,191.90 L143.35,191.65 L143.65,191.41 L143.95,191.16 L144.26,190.92 L144.56,190.67 L144.86,190.43 L145.16,190.18 L145.46,189.94 L145.76,189.69 L146.07,189.44 L146.37,189.20 L146.67,188.95 L146.97,188.70 L147.27,188.45 L147.57,188.20 L147.88,187.95 L148.18,187.70 L148.48,187.45 L148.78,187.20 L149.08,186.95 L149.39,186.69 L149.69,186.44 L149.99,186.18 L150.29,185.93 L150.59,185.67 L150.89,185.41 L151.20,185.14 L151.50,184.88 L151.80,184.62 L153.36,183.23 L154.92,181.83 L156.47,180.40 L158.03,178.95 L159.59,177.48 L161.14,176.00 L162.70,174.51 L164.26,173.02 L165.82,171.51 L167.38,170.01 L168.93,168.51 L170.49,167.01 L172.05,165.51 L173.61,164.03 L175.16,162.56 L176.72,161.10 L178.28,159.66 L179.84,158.24 L181.39,156.85 L182.95,155.48 L184.51,154.13 L186.06,152.80 L187.62,151.47 L189.18,150.16 L190.74,148.86 L192.30,147.57 L193.85,146.29 L195.41,145.02 L196.97,143.75 L198.52,142.50 L200.08,141.25 L201.64,140.00 L203.20,138.77 L204.75,137.53 L206.31,136.30 L207.87,135.08 L209.43,133.85 L210.99,132.63 L212.54,131.42 L214.10,130.20 L215.66,128.98 L217.22,127.76 L218.77,126.55 L220.33,125.33 L221.89,124.12 L223.45,122.91 L225.00,121.70 L226.56,120.50 L228.12,119.30 L229.68,118.11 L231.23,116.93 L232.79,115.75 L234.35,114.59 L235.91,113.43 L237.46,112.28 L239.02,111.15 L240.58,110.02 L242.13,108.91 L243.69,107.81 L245.25,106.72 L246.81,105.65 L248.37,104.58 L249.92,103.51 L251.48,102.45 L253.04,101.39 L254.59,100.34 L256.15,99.30 L257.71,98.27 L259.27,97.24 L260.83,96.23 L262.38,95.23 L263.94,94.24 L265.50,93.26 L267.06,92.29 L268.61,91.34 L270.17,90.40 L271.73,89.47 L273.29,88.57 L274.84,87.68 L276.40,86.80 L277.96,85.94 L279.52,85.09 L281.07,84.26 L282.63,83.43 L284.19,82.61 L285.75,81.81 L287.30,81.01 L288.86,80.23 L290.42,79.45 L291.98,78.69 L293.53,77.93 L295.09,77.18 L296.65,76.44 L298.21,75.71 L299.76,74.99 L301.32,74.28 L302.88,73.58 L304.43,72.88 L305.99,72.20 L307.55,71.52 L309.11,70.85 L310.66,70.18 L312.22,69.51 L313.78,68.85 L315.34,68.19 L316.89,67.54 L318.45,66.89 L320.01,66.25 L321.57,65.62 L323.12,65.00 L324.68,64.39 L326.24,63.79 L327.80,63.20 L329.36,62.62 L330.91,62.05 L332.47,61.50 L334.03,60.96 L335.59,60.44 L337.14,59.93 L338.70,59.43 L340.26,58.95 L341.82,58.47 L343.37,57.99 L344.93,57.51 L346.49,57.04 L348.05,56.57 L349.60,56.11 L351.16,55.66 L352.72,55.22 L354.28,54.79 L355.83,54.37 L357.39,53.97 L358.95,53.58 L360.51,53.20 L362.06,52.84 L363.62,52.50 L365.18,52.17 L366.74,51.87 L368.29,51.59 L369.85,51.33 L371.41,51.08 L372.96,50.83 L374.52,50.59 L376.08,50.35 L377.64,50.12 L379.19,49.89 L380.75,49.67 L382.31,49.46 L383.87,49.26 L385.43,49.06 L386.98,48.87 L388.54,48.69 L390.10,48.53 L391.65,48.37 L393.21,48.23 L394.77,48.09 L396.33,47.97 L397.88,47.87 L399.44,47.78 L401.00,47.70" stroke="#00ffff" stroke-dasharray="3.56 1.27 0.63 1.27"/>
<path d="M91.74,284.60 L92.04,281.41 L92.35,278.30 L92.65,275.28 L92.95,272.36 L93.25,269.55 L93.55,266.84 L93.86,264.24 L94.16,261.75 L94.46,259.39 L94.76,257.16 L95.06,255.06 L95.36,253.10 L95.67,251.29 L95.97,249.62 L96.27,248.10 L96.57,246.73 L96.87,245.42 L97.18,244.17 L97.48,242.98 L97.78,241.86 L98.08,240.81 L98.38,239.84 L98.68,238.97 L98.99,238.18 L99.29,237.50 L99.59,236.92 L99.89,236.45 L100.19,236.00 L100.49,235.59 L100.80,235.21 L101.10,234.87 L101.40,234.58 L101.70,234.33 L102.00,234.14 L102.31,234.00 L102.61,233.90 L102.91,233.82 L103.21,233.74 L103.51,233.68 L103.81,233.62 L104.12,233.57 L104.42,233.52 L104.72,233.47 L105.02,233.42 L105.32,233.37 L105.63,233.30 L105.93,233.24 L106.23,233.18 L106.53,233.12 L106.83,233.06 L107.13,233.00 L107.44,232.94 L107.74,232.88 L108.04,232.81 L108.34,232.74 L108.64,232.66 L108.95,232.58 L109.25,232.48 L109.55,232.37 L109.85,232.23 L110.15,232.06 L110.45,231.86 L110.76,231.64 L111.06,231.40 L111.36,231.15 L111.66,230.89 L111.96,230.63 L112.26,230.37 L112.57,230.12 L112.87,229.88 L113.17,229.66 L113.47,229.44 L113.77,229.22 L114.08,229.01 L114.38,228.80 L114.68,228.60 L114.98,228.39 L115.28,228.18 L115.58,227.97 L115.89,227.75 L116.19,227.53 L116.49,227.30 L116.79,227.06 L117.09,226.81 L117.40,226.56 L117.70,226.29 L118.00,226.00 L118.30,225.70 L118.60,225.39 L118.90,225.05 L119.21,224.69 L119.51,224.21 L119.81,223.65 L120.11,223.06 L120.41,222.50 L120.72,222.03 L121.02,221.67 L121.32,221.32 L121.62,220.97 L121.92,220.64 L122.22,220.31 L122.53,220.00 L122.83,219.68 L123.13,219.38 L123.43,219.08 L123.73,218.79 L124.03,218.51 L124.34,218.23 L124.64,217.96 L124.94,217.69 L125.24,217.43 L125.54,217.18 L125.85,216.93 L126.15,216.68 L126.45,216.44 L126.75,216.20 L127.05,215.97 L127.35,215.74 L127.66,215.52 L127.96,215.30 L128.26,215.08 L128.56,214.87 L128.86,214.66 L129.17,214.45 L129.47,214.24 L129.77,214.04 L130.07,213.83 L130.37,213.63 L130.67,213.43 L130.98,213.23 L131.28,213.04 L131.58,212.84 L131.88,212.65 L132.18,212.45 L132.49,212.26 L132.79,212.06 L133.09,211.86 L133.39,211.67 L133.69,211.47 L133.99,211.27 L134.30,211.07 L134.60,210.87 L134.90,210.67 L135.20,210.46 L135.50,210.26 L135.80,210.05 L136.11,209.84 L136.41,209.63 L136.71,209.43 L137.01,209.22 L137.31,209.02 L137.62,208.83 L137.92,208.63 L138.22,208.44 L138.52,208.24 L138.82,208.05 L139.12,207.86 L139.43,207.68 L139.73,207.49 L140.03,207.30 L140.33,207.12 L140.63,206.94 L140.94,206.76 L141.24,206.57 L141.54,206.39 L141.84,206.21 L142.14,206.04 L142.44,205.86 L142.75,205.68 L143.05,205.50 L143.35,205.33 L143.65,205.15 L143.95,204.97 L144.26,204.80 L144.56,204.62 L144.86,204.44 L145.16,204.26 L145.46,204.09 L145.76,203.91 L146.07,203.73 L146.37,203.55 L146.67,203.37 L146.97,203.19 L147.27,203.00 L147.57,202.82 L147.88,202.64 L148.18,202.45 L148.48,202.26 L148.78,202.07 L149.08,201.88 L149.39,201.69 L149.69,201.50 L149.99,201.30 L150.29,201.10 L150.59,200.91 L150.89,200.70 L151.20,200.50 L151.50,200.29 L151.80,200.08 L153.36,198.98 L154.92,197.83 L156.47,196.65 L158.03,195.44 L159.59,194.19 L161.14,192.92 L162.70,191.63 L164.26,190.32 L165.82,189.00 L167.38,187.67 L168.93,186.34 L170.49,185.01 L172.05,183.67 L173.61,182.35 L175.16,181.03 L176.72,179.74 L178.28,178.46 L179.84,177.20 L181.39,175.97 L182.95,174.77 L184.51,173.60 L186.06,172.43 L187.62,171.28 L189.18,170.13 L190.74,168.99 L192.30,167.86 L193.85,166.74 L195.41,165.62 L196.97,164.52 L198.52,163.41 L200.08,162.32 L201.64,161.23 L203.20,160.14 L204.75,159.06 L206.31,157.98 L207.87,156.91 L209.43,155.83 L210.99,154.76 L212.54,153.69 L214.10,152.63 L215.66,151.56 L217.22,150.49 L218.77,149.42 L220.33,148.36 L221.89,147.29 L223.45,146.23 L225.00,145.17 L226.56,144.11 L228.12,143.06 L229.68,142.02 L231.23,140.98 L232.79,139.95 L234.35,138.92 L235.91,137.91 L237.46,136.90 L239.02,135.90 L240.58,134.92 L242.13,133.94 L243.69,132.98 L245.25,132.03 L246.81,131.08 L248.37,130.14 L249.92,129.21 L251.48,128.28 L253.04,127.35 L254.59,126.43 L256.15,125.52 L257.71,124.61 L259.27,123.72 L260.83,122.83 L262.38,121.95 L263.94,121.08 L265.50,120.22 L267.06,119.38 L268.61,118.54 L270.17,117.72 L271.73,116.92 L273.29,116.12 L274.84,115.35 L276.40,114.58 L277.96,113.84 L279.52,113.10 L281.07,112.37 L282.63,111.65 L284.19,110.94 L285.75,110.24 L287.30,109.54 L288.86,108.86 L290.42,108.19 L291.98,107.52 L293.53,106.86 L295.09,106.22 L296.65,105.58 L298.21,104.94 L299.76,104.32 L301.32,103.71 L302.88,103.10 L304.43,102.50 L305.99,101.92 L307.55,101.33 L309.11,100.76 L310.66,100.18 L312.22,99.61 L313.78,99.05 L315.34,98.48 L316.89,97.93 L318.45,97.38 L320.01,96.83 L321.57,96.30 L323.12,95.77 L324.68,95.25 L326.24,94.74 L327.80,94.24 L329.36,93.75 L330.91,93.28 L332.47,92.82 L334.03,92.37 L335.59,91.93 L337.14,91.51 L338.70,91.10 L340.26,90.71 L341.82,90.31 L343.37,89.91 L344.93,89.52 L346.49,89.13 L348.05,88.75 L349.60,88.37 L351.16,88.00 L352.72,87.64 L354.28,87.29 L355.83,86.95 L357.39,86.62 L358.95,86.31 L360.51,86.01 L362.06,85.73 L363.62,85.46 L365.18,85.22 L366.74,84.99 L368.29,84.78 L369.85,84.60 L371.41,84.43 L372.96,84.26 L374.52,84.09 L376.08,83.93 L377.64,83.77 L379.19,83.61 L380.75,83.46 L382.31,83.31 L383.87,83.17 L385.43,83.04 L386.98,82.91 L388.54,82.79 L390.10,82.69 L391.65,82.59 L393.21,82.51 L394.77,82.43 L396.33,82.37 L397.88,82.32 L399.44,82.29 L401.00,82.27" stroke="#a52a2a" stroke-dasharray="2.0 1.75 0.6 1.75"/>
<path d="M91.74,284.60 L92.04,271.64 L92.35,260.42 L92.65,251.55 L92.95,245.28 L93.25,240.47 L93.55,236.02 L93.86,231.01 L94.16,225.73 L94.46,220.35 L94.76,214.93 L95.06,209.55 L95.36,204.27 L95.67,199.16 L95.97,194.27 L96.27,188.89 L96.57,183.81 L96.87,180.58 L97.18,179.37 L97.48,178.52 L97.78,177.98 L98.08,177.66 L98.38,177.41 L98.68,177.22 L98.99,177.11 L99.29,177.11 L99.59,177.27 L99.89,177.55 L100.19,177.91 L100.49,178.33 L100.80,178.98 L101.10,179.84 L101.40,180.78 L101.70,181.88 L102.00,183.13 L102.31,184.51 L102.61,185.97 L102.91,187.47 L103.21,188.99 L103.51,190.49 L103.81,191.92 L104.12,193.26 L104.42,194.52 L104.72,195.80 L105.02,197.08 L105.32,198.35 L105.63,199.59 L105.93,200.81 L106.23,201.98 L106.53,203.09 L106.83,204.13 L107.13,205.09 L107.44,205.95 L107.74,206.75 L108.04,207.52 L108.34,208.25 L108.64,208.94 L108.95,209.60 L109.25,210.23 L109.55,210.83 L109.85,211.40 L110.15,211.93 L110.45,212.44 L110.76,212.92 L111.06,213.40 L111.36,213.87 L111.66,214.33 L111.96,214.77 L112.26,215.19 L112.57,215.58 L112.87,215.94 L113.17,216.26 L113.47,216.53 L113.77,216.75 L114.08,216.92 L114.38,217.08 L114.68,217.24 L114.98,217.39 L115.28,217.52 L115.58,217.64 L115.89,217.75 L116.19,217.83 L116.49,217.88 L116.79,217.91 L117.09,217.91 L117.40,217.90 L117.70,217.89 L118.00,217.87 L118.30,217.85 L118.60,217.82 L118.90,217.79 L119.21,217.76 L119.51,217.72 L119.81,217.68 L120.11,217.64 L120.41,217.60 L120.72,217.56 L121.02,217.51 L121.32,217.46 L121.62,217.39 L121.92,217.32 L122.22,217.24 L122.53,217.15 L122.83,217.05 L123.13,216.95 L123.43,216.84 L123.73,216.72 L124.03,216.60 L124.34,216.47 L124.64,216.35 L124.94,216.21 L125.24,216.08 L125.54,215.94 L125.85,215.80 L126.15,215.66 L126.45,215.52 L126.75,215.38 L127.05,215.24 L127.35,215.10 L127.66,214.97 L127.96,214.84 L128.26,214.70 L128.56,214.58 L128.86,214.45 L129.17,214.32 L129.47,214.19 L129.77,214.06 L130.07,213.92 L130.37,213.79 L130.67,213.65 L130.98,213.52 L131.28,213.38 L131.58,213.24 L131.88,213.10 L132.18,212.96 L132.49,212.82 L132.79,212.68 L133.09,212.53 L133.39,212.39 L133.69,212.24 L133.99,212.10 L134.30,211.95 L134.60,211.80 L134.90,211.66 L135.20,211.51 L135.50,211.36 L135.80,211.21 L136.11,211.06 L136.41,210.91 L136.71,210.76 L137.01,210.60 L137.31,210.45 L137.62,210.29 L137.92,210.14 L138.22,209.98 L138.52,209.82 L138.82,209.66 L139.12,209.50 L139.43,209.34 L139.73,209.18 L140.03,209.01 L140.33,208.85 L140.63,208.69 L140.94,208.53 L141.24,208.36 L141.54,208.20 L141.84,208.04 L142.14,207.88 L142.44,207.72 L142.75,207.56 L143.05,207.40 L143.35,207.23 L143.65,207.07 L143.95,206.91 L144.26,206.75 L144.56,206.59 L144.86,206.42 L145.16,206.26 L145.46,206.09 L145.76,205.93 L146.07,205.76 L146.37,205.60 L146.67,205.43 L146.97,205.26 L147.27,205.09 L147.57,204.92 L147.88,204.75 L148.18,204.57 L148.48,204.40 L148.78,204.22 L149.08,204.04 L149.39,203.86 L149.69,203.68 L149.99,203.50 L150.29,203.31 L150.59,203.13 L150.89,202.94 L151.20,202.75 L151.50,202.56 L151.80,202.36 L153.36,201.32 L154.92,200.23 L156.47,199.09 L158.03,197.91 L159.59,196.69 L161.14,195.44 L162.70,194.16 L164.26,192.85 L165.82,191.53 L167.38,190.19 L168.93,188.84 L170.49,187.49 L172.05,186.14 L173.61,184.80 L175.16,183.46 L176.72,182.14 L178.28,180.84 L179.84,179.57 L181.39,178.32 L182.95,177.11 L184.51,175.93 L186.06,174.75 L187.62,173.58 L189.18,172.42 L190.74,171.27 L192.30,170.12 L193.85,168.98 L195.41,167.85 L196.97,166.72 L198.52,165.60 L200.08,164.48 L201.64,163.37 L203.20,162.26 L204.75,161.15 L206.31,160.05 L207.87,158.94 L209.43,157.84 L210.99,156.74 L212.54,155.64 L214.10,154.54 L215.66,153.43 L217.22,152.33 L218.77,151.23 L220.33,150.12 L221.89,149.02 L223.45,147.92 L225.00,146.82 L226.56,145.72 L228.12,144.63 L229.68,143.54 L231.23,142.45 L232.79,141.37 L234.35,140.30 L235.91,139.23 L237.46,138.17 L239.02,137.12 L240.58,136.08 L242.13,135.05 L243.69,134.03 L245.25,133.01 L246.81,132.01 L248.37,131.01 L249.92,130.01 L251.48,129.01 L253.04,128.02 L254.59,127.04 L256.15,126.06 L257.71,125.08 L259.27,124.11 L260.83,123.16 L262.38,122.20 L263.94,121.26 L265.50,120.33 L267.06,119.41 L268.61,118.50 L270.17,117.59 L271.73,116.71 L273.29,115.83 L274.84,114.97 L276.40,114.12 L277.96,113.28 L279.52,112.45 L281.07,111.63 L282.63,110.82 L284.19,110.02 L285.75,109.23 L287.30,108.44 L288.86,107.67 L290.42,106.90 L291.98,106.14 L293.53,105.38 L295.09,104.64 L296.65,103.90 L298.21,103.17 L299.76,102.45 L301.32,101.73 L302.88,101.02 L304.43,100.31 L305.99,99.61 L307.55,98.92 L309.11,98.23 L310.66,97.55 L312.22,96.87 L313.78,96.19 L315.34,95.51 L316.89,94.84 L318.45,94.18 L320.01,93.52 L321.57,92.87 L323.12,92.23 L324.68,91.59 L326.24,90.96 L327.80,90.34 L329.36,89.73 L330.91,89.13 L332.47,88.55 L334.03,87.97 L335.59,87.40 L337.14,86.85 L338.70,86.31 L340.26,85.78 L341.82,85.25 L343.37,84.73 L344.93,84.20 L346.49,83.69 L348.05,83.18 L349.60,82.67 L351.16,82.18 L352.72,81.69 L354.28,81.21 L355.83,80.74 L357.39,80.28 L358.95,79.83 L360.51,79.40 L362.06,78.98 L363.62,78.57 L365.18,78.17 L366.74,77.80 L368.29,77.44 L369.85,77.09 L371.41,76.76 L372.96,76.43 L374.52,76.11 L376.08,75.80 L377.64,75.49 L379.19,75.18 L380.75,74.89 L382.31,74.60 L383.87,74.32 L385.43,74.04 L386.98,73.78 L388.54,73.52 L390.10,73.28 L391.65,73.04 L393.21,72.81 L394.77,72.60 L396.33,72.39 L397.88,72.20 L399.44,72.02 L401.00,71.85" stroke="#ff00ff" stroke-dasharray="1.5 0.9 1.5 3.4"/>
<path d="M91.74,284.60 L92.04,271.64 L92.35,260.42 L92.65,251.55 L92.95,245.28 L93.25,240.47 L93.55,236.02 L93.86,231.02 L94.16,225.77 L94.46,220.43 L94.76,215.05 L95.06,209.69 L95.36,204.41 L95.67,199.25 L95.97,194.24 L96.27,188.62 L96.57,183.25 L96.87,179.86 L97.18,178.63 L97.48,177.79 L97.78,177.25 L98.08,176.93 L98.38,176.68 L98.68,176.49 L98.99,176.38 L99.29,176.38 L99.59,176.55 L99.89,176.85 L100.19,177.20 L100.49,177.57 L100.80,178.01 L101.10,178.55 L101.40,179.16 L101.70,179.84 L102.00,180.65 L102.31,181.59 L102.61,182.65 L102.91,183.79 L103.21,185.01 L103.51,186.27 L103.81,187.56 L104.12,188.84 L104.42,190.11 L104.72,191.34 L105.02,192.50 L105.32,193.61 L105.63,194.76 L105.93,195.93 L106.23,197.10 L106.53,198.27 L106.83,199.42 L107.13,200.53 L107.44,201.60 L107.74,202.60 L108.04,203.53 L108.34,204.38 L108.64,205.14 L108.95,205.85 L109.25,206.54 L109.55,207.20 L109.85,207.83 L110.15,208.43 L110.45,209.00 L110.76,209.53 L111.06,210.03 L111.36,210.50 L111.66,210.93 L111.96,211.32 L112.26,211.70 L112.57,212.08 L112.87,212.45 L113.17,212.81 L113.47,213.15 L113.77,213.46 L114.08,213.75 L114.38,214.00 L114.68,214.20 L114.98,214.36 L115.28,214.47 L115.58,214.53 L115.89,214.59 L116.19,214.64 L116.49,214.69 L116.79,214.73 L117.09,214.77 L117.40,214.80 L117.70,214.82 L118.00,214.84 L118.30,214.85 L118.60,214.85 L118.90,214.82 L119.21,214.76 L119.51,214.69 L119.81,214.59 L120.11,214.48 L120.41,214.35 L120.72,214.22 L121.02,214.08 L121.32,213.94 L121.62,213.80 L121.92,213.66 L122.22,213.53 L122.53,213.40 L122.83,213.27 L123.13,213.13 L123.43,212.99 L123.73,212.84 L124.03,212.69 L124.34,212.54 L124.64,212.38 L124.94,212.22 L125.24,212.06 L125.54,211.89 L125.85,211.73 L126.15,211.56 L126.45,211.39 L126.75,211.22 L127.05,211.04 L127.35,210.87 L127.66,210.70 L127.96,210.53 L128.26,210.36 L128.56,210.19 L128.86,210.01 L129.17,209.84 L129.47,209.66 L129.77,209.49 L130.07,209.31 L130.37,209.13 L130.67,208.95 L130.98,208.77 L131.28,208.58 L131.58,208.40 L131.88,208.21 L132.18,208.02 L132.49,207.84 L132.79,207.65 L133.09,207.46 L133.39,207.27 L133.69,207.08 L133.99,206.89 L134.30,206.70 L134.60,206.51 L134.90,206.32 L135.20,206.13 L135.50,205.94 L135.80,205.75 L136.11,205.56 L136.41,205.37 L136.71,205.18 L137.01,204.99 L137.31,204.80 L137.62,204.61 L137.92,204.42 L138.22,204.23 L138.52,204.04 L138.82,203.85 L139.12,203.67 L139.43,203.48 L139.73,203.29 L140.03,203.10 L140.33,202.91 L140.63,202.72 L140.94,202.53 L141.24,202.34 L141.54,202.15 L141.84,201.96 L142.14,201.77 L142.44,201.58 L142.75,201.39 L143.05,201.19 L143.35,201.00 L143.65,200.81 L143.95,200.61 L144.26,200.42 L144.56,200.23 L144.86,200.03 L145.16,199.83 L145.46,199.64 L145.76,199.44 L146.07,199.24 L146.37,199.04 L146.67,198.84 L146.97,198.64 L147.27,198.43 L147.57,198.23 L147.88,198.02 L148.18,197.82 L148.48,197.61 L148.78,197.40 L149.08,197.19 L149.39,196.98 L149.69,196.77 L149.99,196.56 L150.29,196.34 L150.59,196.12 L150.89,195.91 L151.20,195.69 L151.50,195.47 L151.80,195.25 L153.36,194.07 L154.92,192.85 L156.47,191.59 L158.03,190.29 L159.59,188.96 L161.14,187.60 L162.70,186.21 L164.26,184.81 L165.82,183.39 L167.38,181.96 L168.93,180.52 L170.49,179.08 L172.05,177.64 L173.61,176.21 L175.16,174.79 L176.72,173.39 L178.28,172.00 L179.84,170.64 L181.39,169.31 L182.95,168.01 L184.51,166.73 L186.06,165.46 L187.62,164.20 L189.18,162.96 L190.74,161.72 L192.30,160.48 L193.85,159.26 L195.41,158.04 L196.97,156.83 L198.52,155.62 L200.08,154.42 L201.64,153.23 L203.20,152.04 L204.75,150.85 L206.31,149.66 L207.87,148.48 L209.43,147.29 L210.99,146.11 L212.54,144.93 L214.10,143.75 L215.66,142.57 L217.22,141.38 L218.77,140.20 L220.33,139.01 L221.89,137.83 L223.45,136.65 L225.00,135.47 L226.56,134.29 L228.12,133.12 L229.68,131.96 L231.23,130.79 L232.79,129.64 L234.35,128.49 L235.91,127.35 L237.46,126.21 L239.02,125.09 L240.58,123.98 L242.13,122.87 L243.69,121.78 L245.25,120.70 L246.81,119.62 L248.37,118.55 L249.92,117.48 L251.48,116.42 L253.04,115.36 L254.59,114.31 L256.15,113.26 L257.71,112.22 L259.27,111.19 L260.83,110.17 L262.38,109.16 L263.94,108.15 L265.50,107.16 L267.06,106.17 L268.61,105.20 L270.17,104.24 L271.73,103.30 L273.29,102.36 L274.84,101.44 L276.40,100.54 L277.96,99.65 L279.52,98.77 L281.07,97.90 L282.63,97.04 L284.19,96.19 L285.75,95.35 L287.30,94.51 L288.86,93.69 L290.42,92.87 L291.98,92.07 L293.53,91.27 L295.09,90.48 L296.65,89.69 L298.21,88.92 L299.76,88.15 L301.32,87.39 L302.88,86.64 L304.43,85.89 L305.99,85.16 L307.55,84.42 L309.11,83.70 L310.66,82.97 L312.22,82.25 L313.78,81.53 L315.34,80.82 L316.89,80.11 L318.45,79.41 L320.01,78.71 L321.57,78.03 L323.12,77.35 L324.68,76.67 L326.24,76.01 L327.80,75.36 L329.36,74.72 L330.91,74.09 L332.47,73.47 L334.03,72.86 L335.59,72.26 L337.14,71.68 L338.70,71.12 L340.26,70.56 L341.82,70.00 L343.37,69.45 L344.93,68.90 L346.49,68.36 L348.05,67.83 L349.60,67.30 L351.16,66.78 L352.72,66.26 L354.28,65.76 L355.83,65.27 L357.39,64.79 L358.95,64.32 L360.51,63.87 L362.06,63.43 L363.62,63.00 L365.18,62.59 L366.74,62.20 L368.29,61.83 L369.85,61.47 L371.41,61.13 L372.96,60.79 L374.52,60.46 L376.08,60.14 L377.64,59.82 L379.19,59.50 L380.75,59.20 L382.31,58.90 L383.87,58.61 L385.43,58.33 L386.98,58.06 L388.54,57.80 L390.10,57.55 L391.65,57.30 L393.21,57.07 L394.77,56.86 L396.33,56.65 L397.88,56.45 L399.44,56.27 L401.00,56.10" stroke="#ee82ee" stroke-dasharray="3.3 1.3 0.7 1.3 0.7 1.3 3.5 1.4 1.4 1.3"/>
<path d="M91.74,284.60 L92.04,271.64 L92.35,260.42 L92.65,251.55 L92.95,245.27 L93.25,240.41 L93.55,235.97 L93.86,231.07 L94.16,225.93 L94.46,220.71 L94.76,215.50 L95.06,210.38 L95.36,205.44 L95.67,200.76 L95.97,196.41 L96.27,191.83 L96.57,187.60 L96.87,184.92 L97.18,183.89 L97.48,183.17 L97.78,182.70 L98.08,182.40 L98.38,182.15 L98.68,181.96 L98.99,181.85 L99.29,181.84 L99.59,181.90 L99.89,182.02 L100.19,182.17 L100.49,182.38 L100.80,182.73 L101.10,183.23 L101.40,184.04 L101.70,185.13 L102.00,186.45 L102.31,187.94 L102.61,189.54 L102.91,191.19 L103.21,192.85 L103.51,194.46 L103.81,195.95 L104.12,197.28 L104.42,198.46 L104.72,199.60 L105.02,200.72 L105.32,201.81 L105.63,202.87 L105.93,203.92 L106.23,204.94 L106.53,205.94 L106.83,206.93 L107.13,207.91 L107.44,208.88 L107.74,209.84 L108.04,210.78 L108.34,211.71 L108.64,212.62 L108.95,213.51 L109.25,214.38 L109.55,215.22 L109.85,216.03 L110.15,216.84 L110.45,217.67 L110.76,218.49 L111.06,219.29 L111.36,220.04 L111.66,220.72 L111.96,221.30 L112.26,221.76 L112.57,222.15 L112.87,222.51 L113.17,222.85 L113.47,223.17 L113.77,223.46 L114.08,223.72 L114.38,223.96 L114.68,224.15 L114.98,224.32 L115.28,224.44 L115.58,224.54 L115.89,224.64 L116.19,224.73 L116.49,224.81 L116.79,224.89 L117.09,224.96 L117.40,225.02 L117.70,225.08 L118.00,225.12 L118.30,225.16 L118.60,225.18 L118.90,225.20 L119.21,225.20 L119.51,225.20 L119.81,225.20 L120.11,225.20 L120.41,225.20 L120.72,225.20 L121.02,225.19 L121.32,225.18 L121.62,225.15 L121.92,225.11 L122.22,225.06 L122.53,224.99 L122.83,224.92 L123.13,224.84 L123.43,224.75 L123.73,224.65 L124.03,224.55 L124.34,224.43 L124.64,224.32 L124.94,224.19 L125.24,224.07 L125.54,223.94 L125.85,223.80 L126.15,223.67 L126.45,223.53 L126.75,223.40 L127.05,223.26 L127.35,223.12 L127.66,222.99 L127.96,222.85 L128.26,222.72 L128.56,222.59 L128.86,222.46 L129.17,222.32 L129.47,222.18 L129.77,222.03 L130.07,221.88 L130.37,221.72 L130.67,221.55 L130.98,221.39 L131.28,221.22 L131.58,221.04 L131.88,220.87 L132.18,220.69 L132.49,220.51 L132.79,220.33 L133.09,220.14 L133.39,219.96 L133.69,219.77 L133.99,219.59 L134.30,219.41 L134.60,219.22 L134.90,219.04 L135.20,218.86 L135.50,218.68 L135.80,218.50 L136.11,218.32 L136.41,218.14 L136.71,217.95 L137.01,217.76 L137.31,217.57 L137.62,217.37 L137.92,217.17 L138.22,216.97 L138.52,216.77 L138.82,216.57 L139.12,216.37 L139.43,216.16 L139.73,215.96 L140.03,215.76 L140.33,215.56 L140.63,215.36 L140.94,215.16 L141.24,214.96 L141.54,214.77 L141.84,214.58 L142.14,214.40 L142.44,214.22 L142.75,214.05 L143.05,213.88 L143.35,213.71 L143.65,213.55 L143.95,213.40 L144.26,213.26 L144.56,213.12 L144.86,212.99 L145.16,212.87 L145.46,212.75 L145.76,212.65 L146.07,212.54 L146.37,212.45 L146.67,212.35 L146.97,212.26 L147.27,212.18 L147.57,212.09 L147.88,212.01 L148.18,211.93 L148.48,211.85 L148.78,211.77 L149.08,211.69 L149.39,211.61 L149.69,211.52 L149.99,211.43 L150.29,211.34 L150.59,211.24 L150.89,211.14 L151.20,211.04 L151.50,210.93 L151.80,210.81 L153.36,210.12 L154.92,209.33 L156.47,208.45 L158.03,207.48 L159.59,206.44 L161.14,205.33 L162.70,204.16 L164.26,202.94 L165.82,201.67 L167.38,200.38 L168.93,199.06 L170.49,197.73 L172.05,196.40 L173.61,195.06 L175.16,193.74 L176.72,192.44 L178.28,191.17 L179.84,189.93 L181.39,188.75 L182.95,187.61 L184.51,186.52 L186.06,185.43 L187.62,184.35 L189.18,183.28 L190.74,182.21 L192.30,181.15 L193.85,180.10 L195.41,179.05 L196.97,178.00 L198.52,176.96 L200.08,175.92 L201.64,174.89 L203.20,173.86 L204.75,172.83 L206.31,171.81 L207.87,170.78 L209.43,169.76 L210.99,168.73 L212.54,167.71 L214.10,166.69 L215.66,165.66 L217.22,164.64 L218.77,163.61 L220.33,162.58 L221.89,161.55 L223.45,160.53 L225.00,159.50 L226.56,158.48 L228.12,157.46 L229.68,156.45 L231.23,155.44 L232.79,154.43 L234.35,153.43 L235.91,152.44 L237.46,151.45 L239.02,150.47 L240.58,149.50 L242.13,148.53 L243.69,147.58 L245.25,146.63 L246.81,145.69 L248.37,144.76 L249.92,143.82 L251.48,142.89 L253.04,141.97 L254.59,141.05 L256.15,140.13 L257.71,139.22 L259.27,138.31 L260.83,137.42 L262.38,136.53 L263.94,135.64 L265.50,134.77 L267.06,133.91 L268.61,133.05 L270.17,132.21 L271.73,131.38 L273.29,130.56 L274.84,129.75 L276.40,128.95 L277.96,128.17 L279.52,127.39 L281.07,126.62 L282.63,125.86 L284.19,125.11 L285.75,124.36 L287.30,123.63 L288.86,122.90 L290.42,122.18 L291.98,121.46 L293.53,120.75 L295.09,120.05 L296.65,119.36 L298.21,118.67 L299.76,117.99 L301.32,117.32 L302.88,116.65 L304.43,115.99 L305.99,115.34 L307.55,114.69 L309.11,114.04 L310.66,113.40 L312.22,112.76 L313.78,112.12 L315.34,111.49 L316.89,110.86 L318.45,110.24 L320.01,109.62 L321.57,109.01 L323.12,108.41 L324.68,107.81 L326.24,107.23 L327.80,106.65 L329.36,106.08 L330.91,105.51 L332.47,104.96 L334.03,104.42 L335.59,103.90 L337.14,103.38 L338.70,102.88 L340.26,102.38 L341.82,101.89 L343.37,101.40 L344.93,100.91 L346.49,100.43 L348.05,99.95 L349.60,99.48 L351.16,99.01 L352.72,98.56 L354.28,98.11 L355.83,97.67 L357.39,97.25 L358.95,96.83 L360.51,96.43 L362.06,96.03 L363.62,95.66 L365.18,95.29 L366.74,94.94 L368.29,94.61 L369.85,94.29 L371.41,93.99 L372.96,93.69 L374.52,93.39 L376.08,93.10 L377.64,92.81 L379.19,92.53 L380.75,92.26 L382.31,92.00 L383.87,91.74 L385.43,91.49 L386.98,91.24 L388.54,91.01 L390.10,90.78 L391.65,90.57 L393.21,90.36 L394.77,90.17 L396.33,89.98 L397.88,89.81 L399.44,89.64 L401.00,89.49" stroke="#ffa500" stroke-dasharray="1.5 0.85 1.5 0.85 1.5 0.85 1.5 2.4"/>
</g>
<g stroke="#111" stroke-width="0.75" fill="none"><line x1="89.50" y1="284.60" x2="93.50" y2="284.60"/><line x1="401.00" y1="284.60" x2="397.00" y2="284.60"/><line x1="89.50" y1="277.31" x2="91.50" y2="277.31"/><line x1="401.00" y1="277.31" x2="399.00" y2="277.31"/><line x1="89.50" y1="270.02" x2="91.50" y2="270.02"/><line x1="401.00" y1="270.02" x2="399.00" y2="270.02"/><line x1="89.50" y1="262.73" x2="91.50" y2="262.73"/><line x1="401.00" y1="262.73" x2="399.00" y2="262.73"/><line x1="89.50" y1="255.45" x2="91.50" y2="255.45"/><line x1="401.00" y1="255.45" x2="399.00" y2="255.45"/><line x1="89.50" y1="248.16" x2="93.50" y2="248.16"/><line x1="401.00" y1="248.16" x2="397.00" y2="248.16"/><line x1="89.50" y1="240.87" x2="91.50" y2="240.87"/><line x1="401.00" y1="240.87" x2="399.00" y2="240.87"/><line x1="89.50" y1="233.58" x2="91.50" y2="233.58"/><line x1="401.00" y1="233.58" x2="399.00" y2="233.58"/><line x1="89.50" y1="226.29" x2="91.50" y2="226.29"/><line x1="401.00" y1="226.29" x2="399.00" y2="226.29"/><line x1="89.50" y1="219.00" x2="91.50" y2="219.00"/><line x1="401.00" y1="219.00" x2="399.00" y2="219.00"/><line x1="89.50" y1="211.71" x2="93.50" y2="211.71"/><line x1="401.00" y1="211.71" x2="397.00" y2="211.71"/><line x1="89.50" y1="204.43" x2="91.50" y2="204.43"/><line x1="401.00" y1="204.43" x2="399.00" y2="204.43"/><line x1="89.50" y1="197.14" x2="91.50" y2="197.14"/><line x1="401.00" y1="197.14" x2="399.00" y2="197.14"/><line x1="89.50" y1="189.85" x2="91.50" y2="189.85"/><line x1="401.00" y1="189.85" x2="399.00" y2="189.85"/><line x1="89.50" y1="182.56" x2="91.50" y2="182.56"/><line x1="401.00" y1="182.56" x2="399.00" y2="182.56"/><line x1="89.50" y1="175.27" x2="93.50" y2="175.27"/><line x1="401.00" y1="175.27" x2="397.00" y2="175.27"/><line x1="89.50" y1="167.98" x2="91.50" y2="167.98"/><line x1="401.00" y1="167.98" x2="399.00" y2="167.98"/><line x1="89.50" y1="160.69" x2="91.50" y2="160.69"/><line x1="401.00" y1="160.69" x2="399.00" y2="160.69"/><line x1="89.50" y1="153.41" x2="91.50" y2="153.41"/><line x1="401.00" y1="153.41" x2="399.00" y2="153.41"/><line x1="89.50" y1="146.12" x2="91.50" y2="146.12"/><line x1="401.00" y1="146.12" x2="399.00" y2="146.12"/><line x1="89.50" y1="138.83" x2="93.50" y2="138.83"/><line x1="401.00" y1="138.83" x2="397.00" y2="138.83"/><line x1="89.50" y1="131.54" x2="91.50" y2="131.54"/><line x1="401.00" y1="131.54" x2="399.00" y2="131.54"/><line x1="89.50" y1="124.25" x2="91.50" y2="124.25"/><line x1="401.00" y1="124.25" x2="399.00" y2="124.25"/><line x1="89.50" y1="116.96" x2="91.50" y2="116.96"/><line x1="401.00" y1="116.96" x2="399.00" y2="116.96"/><line x1="89.50" y1="109.67" x2="91.50" y2="109.67"/><line x1="401.00" y1="109.67" x2="399.00" y2="109.67"/><line x1="89.50" y1="102.39" x2="93.50" y2="102.39"/><line x1="401.00" y1="102.39" x2="397.00" y2="102.39"/><line x1="89.50" y1="95.10" x2="91.50" y2="95.10"/><line x1="401.00" y1="95.10" x2="399.00" y2="95.10"/><line x1="89.50" y1="87.81" x2="91.50" y2="87.81"/><line x1="401.00" y1="87.81" x2="399.00" y2="87.81"/><line x1="89.50" y1="80.52" x2="91.50" y2="80.52"/><line x1="401.00" y1="80.52" x2="399.00" y2="80.52"/><line x1="89.50" y1="73.23" x2="91.50" y2="73.23"/><line x1="401.00" y1="73.23" x2="399.00" y2="73.23"/><line x1="89.50" y1="65.94" x2="93.50" y2="65.94"/><line x1="401.00" y1="65.94" x2="397.00" y2="65.94"/><line x1="89.50" y1="58.65" x2="91.50" y2="58.65"/><line x1="401.00" y1="58.65" x2="399.00" y2="58.65"/><line x1="89.50" y1="51.37" x2="91.50" y2="51.37"/><line x1="401.00" y1="51.37" x2="399.00" y2="51.37"/><line x1="89.50" y1="44.08" x2="91.50" y2="44.08"/><line x1="401.00" y1="44.08" x2="399.00" y2="44.08"/><line x1="89.50" y1="36.79" x2="91.50" y2="36.79"/><line x1="401.00" y1="36.79" x2="399.00" y2="36.79"/><line x1="89.50" y1="29.50" x2="93.50" y2="29.50"/><line x1="401.00" y1="29.50" x2="397.00" y2="29.50"/><line x1="89.50" y1="284.60" x2="89.50" y2="280.60"/><line x1="89.50" y1="29.50" x2="89.50" y2="33.50"/><line x1="120.65" y1="284.60" x2="120.65" y2="282.60"/><line x1="120.65" y1="29.50" x2="120.65" y2="31.50"/><line x1="151.80" y1="284.60" x2="151.80" y2="280.60"/><line x1="151.80" y1="29.50" x2="151.80" y2="33.50"/><line x1="182.95" y1="284.60" x2="182.95" y2="282.60"/><line x1="182.95" y1="29.50" x2="182.95" y2="31.50"/><line x1="214.10" y1="284.60" x2="214.10" y2="280.60"/><line x1="214.10" y1="29.50" x2="214.10" y2="33.50"/><line x1="245.25" y1="284.60" x2="245.25" y2="282.60"/><line x1="245.25" y1="29.50" x2="245.25" y2="31.50"/><line x1="276.40" y1="284.60" x2="276.40" y2="280.60"/><line x1="276.40" y1="29.50" x2="276.40" y2="33.50"/><line x1="307.55" y1="284.60" x2="307.55" y2="282.60"/><line x1="307.55" y1="29.50" x2="307.55" y2="31.50"/><line x1="338.70" y1="284.60" x2="338.70" y2="280.60"/><line x1="338.70" y1="29.50" x2="338.70" y2="33.50"/><line x1="369.85" y1="284.60" x2="369.85" y2="282.60"/><line x1="369.85" y1="29.50" x2="369.85" y2="31.50"/><line x1="401.00" y1="284.60" x2="401.00" y2="280.60"/><line x1="401.00" y1="29.50" x2="401.00" y2="33.50"/></g>
<rect x="89.50" y="29.50" width="311.50" height="255.10" fill="none" stroke="#222" stroke-width="1.05"/>
<text class="t" x="82" y="288.80" text-anchor="end">0</text>
<text class="t" x="82" y="252.36" text-anchor="end">0.5</text>
<text class="t" x="82" y="215.91" text-anchor="end">1</text>
<text class="t" x="82" y="179.47" text-anchor="end">1.5</text>
<text class="t" x="82" y="143.03" text-anchor="end">2</text>
<text class="t" x="82" y="106.59" text-anchor="end">2.5</text>
<text class="t" x="82" y="70.14" text-anchor="end">3</text>
<text class="t" x="82" y="33.70" text-anchor="end">3.5</text>
<text class="t" x="91.35" y="300.7" text-anchor="middle">0</text>
<text class="t" x="153.65" y="300.7" text-anchor="middle">0.2</text>
<text class="t" x="215.95" y="300.7" text-anchor="middle">0.4</text>
<text class="t" x="278.25" y="300.7" text-anchor="middle">0.6</text>
<text class="t" x="340.55" y="300.7" text-anchor="middle">0.8</text>
<text class="t" x="402.85" y="300.7" text-anchor="middle">1</text>
<text class="t" x="238.2" y="317.7">x<tspan dy="3.4" font-size="9.6px">μ</tspan></text>
<text class="t" transform="translate(43,207.5) rotate(-90)">dσ<tspan dx="0.4">/dx</tspan><tspan dy="3.4" dx="-0.5" font-size="9.6px">μ</tspan><tspan dy="-3.4" dx="1.8">/dcosθ</tspan><tspan dy="3.4" dx="-1.0" font-size="9.6px">μ</tspan><tspan dy="-3.4" dx="-0.1"> [pb]</tspan></text>
<text class="t" x="96" y="48.8">√s = 1000 GeV</text>
<text class="t" x="96.5" y="64.7">θ<tspan dy="3.4" font-size="9.6px">μ</tspan><tspan dy="-3.4"> = 60</tspan><tspan dy="-5.6" font-size="10px">o</tspan></text>
<line x1="354.5" y1="167.00" x2="387.7" y2="167.00" stroke="#000000" stroke-width="2.40"/>
<text class="t" x="347" y="170.70" text-anchor="end">SM case</text>
<line x1="354.5" y1="178.90" x2="387.7" y2="178.90" stroke="#ff0000" stroke-width="2.40" stroke-dasharray="2.4 1.24"/>
<text class="s" x="347.2" y="181.70" text-anchor="end">δκ<tspan dy="3.2" font-size="9.6px">γ</tspan><tspan dy="-3.2"> =+0.066, λ</tspan><tspan dy="3.2" font-size="9.6px">γ</tspan><tspan dy="-3.2"> = 0</tspan></text>
<line x1="354.5" y1="191.20" x2="387.7" y2="191.20" stroke="#00ff00" stroke-width="2.40" stroke-dasharray="1.2 1.9"/>
<text class="s" x="347.2" y="194.00" text-anchor="end">δκ<tspan dy="3.2" font-size="9.6px">γ</tspan><tspan dy="-3.2"> =–0.072, λ</tspan><tspan dy="3.2" font-size="9.6px">γ</tspan><tspan dy="-3.2"> = 0</tspan></text>
<line x1="354.5" y1="203.50" x2="387.7" y2="203.50" stroke="#b8b8ff" stroke-width="2.2"/>
<line x1="354.5" y1="203.50" x2="387.7" y2="203.50" stroke="#3030ff" stroke-width="2.40" stroke-dasharray="1.6 0.77"/>
<text class="s" x="347.2" y="206.30" text-anchor="end">δκ<tspan dy="3.2" font-size="9.6px">γ</tspan><tspan dy="-3.2"> = 0, λ</tspan><tspan dy="3.2" font-size="9.6px">γ</tspan><tspan dy="-3.2"> =+0.017</tspan></text>
<line x1="354.5" y1="215.60" x2="387.7" y2="215.60" stroke="#00ffff" stroke-width="2.40" stroke-dasharray="3.56 1.27 0.63 1.27"/>
<text class="s" x="347.2" y="218.40" text-anchor="end">δκ<tspan dy="3.2" font-size="9.6px">γ</tspan><tspan dy="-3.2"> =+0.066, λ</tspan><tspan dy="3.2" font-size="9.6px">γ</tspan><tspan dy="-3.2"> =+0.017</tspan></text>
<line x1="354.5" y1="227.60" x2="387.7" y2="227.60" stroke="#a52a2a" stroke-width="2.40" stroke-dasharray="2.0 1.75 0.6 1.75"/>
<text class="s" x="347.2" y="230.40" text-anchor="end">δκ<tspan dy="3.2" font-size="9.6px">γ</tspan><tspan dy="-3.2"> =–0.072, λ</tspan><tspan dy="3.2" font-size="9.6px">γ</tspan><tspan dy="-3.2"> =+0.017</tspan></text>
<line x1="354.5" y1="239.70" x2="387.7" y2="239.70" stroke="#ff00ff" stroke-width="2.40" stroke-dasharray="1.5 0.9 1.5 3.4"/>
<text class="s" x="347.2" y="242.50" text-anchor="end">δκ<tspan dy="3.2" font-size="9.6px">γ</tspan><tspan dy="-3.2"> = 0, λ</tspan><tspan dy="3.2" font-size="9.6px">γ</tspan><tspan dy="-3.2"> =–0.059</tspan></text>
<line x1="354.5" y1="251.90" x2="387.7" y2="251.90" stroke="#ee82ee" stroke-width="2.40" stroke-dasharray="3.3 1.3 0.7 1.3 0.7 1.3 3.5 1.4 1.4 1.3"/>
<text class="s" x="347.2" y="254.70" text-anchor="end">δκ<tspan dy="3.2" font-size="9.6px">γ</tspan><tspan dy="-3.2"> =+0.066, λ</tspan><tspan dy="3.2" font-size="9.6px">γ</tspan><tspan dy="-3.2"> =–0.059</tspan></text>
<line x1="354.5" y1="263.90" x2="387.7" y2="263.90" stroke="#ffa500" stroke-width="2.40" stroke-dasharray="1.5 0.85 1.5 0.85 1.5 0.85 1.5 2.4"/>
<text class="s" x="347.2" y="266.70" text-anchor="end">δκ<tspan dy="3.2" font-size="9.6px">γ</tspan><tspan dy="-3.2"> =–0.072, λ</tspan><tspan dy="3.2" font-size="9.6px">γ</tspan><tspan dy="-3.2"> =–0.059</tspan></text>
</svg>
</body></html>
